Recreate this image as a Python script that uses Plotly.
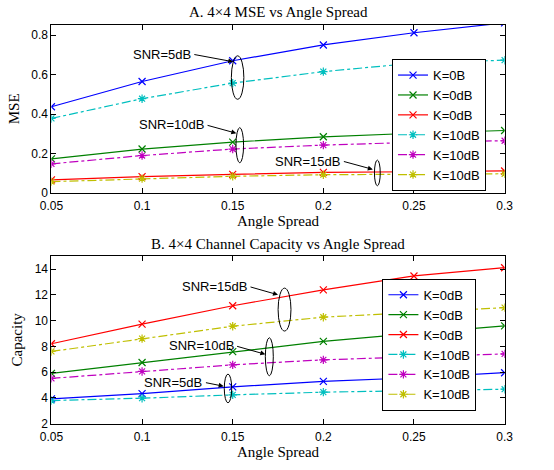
import plotly.graph_objects as go

angle = [0.05, 0.1, 0.15, 0.2, 0.25, 0.3]

# Panel A: MSE
mse_blue = [0.437, 0.565, 0.670, 0.750, 0.812, 0.862]
mse_green = [0.173, 0.223, 0.258, 0.285, 0.303, 0.317]
mse_red = [0.067, 0.083, 0.095, 0.105, 0.108, 0.112]
mse_cyan = [0.378, 0.478, 0.557, 0.615, 0.658, 0.673]
mse_magenta = [0.148, 0.190, 0.223, 0.243, 0.257, 0.265]
mse_yellow = [0.058, 0.073, 0.085, 0.093, 0.095, 0.098]
mse_names = ["K=0B", "K=0dB", "K=0dB", "K=10dB", "K=10dB", "K=10dB"]

# Panel B: Capacity
cap_blue = [3.92, 4.33, 4.85, 5.28, 5.56, 5.95]
cap_green = [5.90, 6.74, 7.59, 8.38, 9.00, 9.59]
cap_red = [8.20, 9.72, 11.15, 12.38, 13.46, 14.10]
cap_cyan = [3.79, 3.97, 4.23, 4.44, 4.56, 4.67]
cap_magenta = [5.51, 6.05, 6.56, 6.95, 7.18, 7.41]
cap_yellow = [7.60, 8.60, 9.56, 10.26, 10.64, 11.00]
cap_names = ["K=0dB", "K=0dB", "K=0dB", "K=10dB", "K=10dB", "K=10dB"]

x_ticktext = ["0.05", "0.1", "0.15", "0.2", "0.25", "0.3"]
mse_ticks = [0, 0.2, 0.4, 0.6, 0.8]
cap_ticks = [2, 4, 6, 8, 10, 12, 14]

colors = ["#0000ff", "#008000", "#ff0000", "#00bfbf", "#bf00bf", "#bfbf00"]
dashes = ["solid", "solid", "solid", "dashdot", "dashdot", "dashdot"]
symbols = ["x-thin", "x-thin", "x-thin", "asterisk", "asterisk", "asterisk"]

fig = go.Figure()

def add_series(ys, names, xa, ya, legend):
    for y, n, c, d, s in zip(ys, names, colors, dashes, symbols):
        fig.add_trace(go.Scatter(
            x=angle, y=y, name=n, mode="lines+markers",
            line=dict(color=c, width=1.2, dash=d),
            marker=dict(symbol=s, size=7, color=c, line=dict(color=c, width=1.2)),
            xaxis=xa, yaxis=ya, legend=legend, cliponaxis=True))

add_series([mse_blue, mse_green, mse_red, mse_cyan, mse_magenta, mse_yellow], mse_names, "x", "y", "legend")
add_series([cap_blue, cap_green, cap_red, cap_cyan, cap_magenta, cap_yellow], cap_names, "x2", "y2", "legend2")

axis_common = dict(showline=True, linecolor="black", linewidth=1, mirror="ticks",
                   ticks="inside", ticklen=5, tickcolor="black", showgrid=False,
                   zeroline=False, tickfont=dict(family="Liberation Sans", size=12, color="black"))
serif = dict(family="Liberation Serif", size=15, color="black")

xdom = [41/554, 512/554]
fig.update_layout(
    width=554, height=470, margin=dict(l=0, r=0, t=0, b=0),
    paper_bgcolor="white", plot_bgcolor="white", showlegend=True,
    xaxis=dict(domain=xdom, range=[0.05, 0.3], tickvals=angle, ticktext=x_ticktext, anchor="y",
               ticklabelstandoff=2,
               title=dict(text="Angle Spread", font=serif, standoff=2), **axis_common),
    yaxis=dict(domain=[1-196/470, 1-25/470], range=[0, 0.853], tickvals=mse_ticks,
               ticktext=[str(v) for v in mse_ticks], anchor="x",
               title=dict(text="MSE", font=serif, standoff=8), **axis_common),
    xaxis2=dict(domain=xdom, range=[0.05, 0.3], tickvals=angle, ticktext=x_ticktext, anchor="y2",
                ticklabelstandoff=2,
                title=dict(text="Angle Spread", font=serif, standoff=2), **axis_common),
    yaxis2=dict(domain=[1-430/470, 1-260/470], range=[2, 15], tickvals=cap_ticks,
                ticktext=[str(v) for v in cap_ticks], anchor="x2",
                title=dict(text="Capacity", font=serif, standoff=8), **axis_common),
    legend=dict(x=395/554, y=1-60/470, xanchor="left", yanchor="top",
                bgcolor="white", bordercolor="black", borderwidth=1,
                font=dict(family="Liberation Sans", size=13, color="black"),
                tracegroupgap=0, itemwidth=30),
    legend2=dict(x=385/554, y=1-283/470, xanchor="left", yanchor="top",
                 bgcolor="white", bordercolor="black", borderwidth=1,
                 font=dict(family="Liberation Sans", size=13, color="black"),
                 tracegroupgap=0, itemwidth=30),
)

# Titles
fig.add_annotation(text="A. 4×4 MSE vs Angle Spread", x=276.5/554, y=1-12/470, xref="paper", yref="paper",
                   xanchor="center", yanchor="middle", showarrow=False, font=serif)
fig.add_annotation(text="B. 4×4 Channel Capacity vs Angle Spread", x=276.5/554, y=1-248/470, xref="paper", yref="paper",
                   xanchor="center", yanchor="middle", showarrow=False, font=serif)

# SNR labels with arrows and ellipses
labels = [
    # text, xa, ya, tail_x, tail_y, head_x, head_y, ell_cx, ell_cy, ell_w, ell_h
    ("SNR=5dB", "x", "y", 0.128, 0.703, 0.1503, 0.665, 0.1527, 0.585, 0.0069, 0.22),
    ("SNR=10dB", "x", "y", 0.1353, 0.345, 0.152, 0.303, 0.1539, 0.2425, 0.0042, 0.178),
    ("SNR=15dB", "x", "y", 0.2105, 0.162, 0.2273, 0.12, 0.2298, 0.102, 0.0032, 0.13),
    ("SNR=15dB", "x2", "y2", 0.159, 12.64, 0.175, 12.0, 0.1786, 10.85, 0.0071, 3.33),
    ("SNR=10dB", "x2", "y2", 0.1516, 8.03, 0.168, 7.38, 0.1702, 7.19, 0.0044, 2.95),
    ("SNR=5dB", "x2", "y2", 0.1344, 5.2, 0.145, 4.9, 0.1474, 4.73, 0.0041, 2.23),
]
for t, xa, ya, tx, ty, hx, hy, cx, cy, w, h in labels:
    fig.add_annotation(text=t, x=tx, y=ty, xref=xa, yref=ya, xanchor="right", yanchor="middle",
                       showarrow=False, font=dict(family="Liberation Sans", size=13, color="black"))
    fig.add_annotation(text="", x=hx, y=hy, xref=xa, yref=ya, ax=tx, ay=ty, axref=xa, ayref=ya,
                       showarrow=True, arrowhead=2, arrowsize=1, arrowwidth=1, arrowcolor="black")
    fig.add_shape(type="circle", xref=xa, yref=ya, x0=cx-w/2, x1=cx+w/2, y0=cy-h/2, y1=cy+h/2,
                  line=dict(color="black", width=1))

fig.write_html("out.html")
